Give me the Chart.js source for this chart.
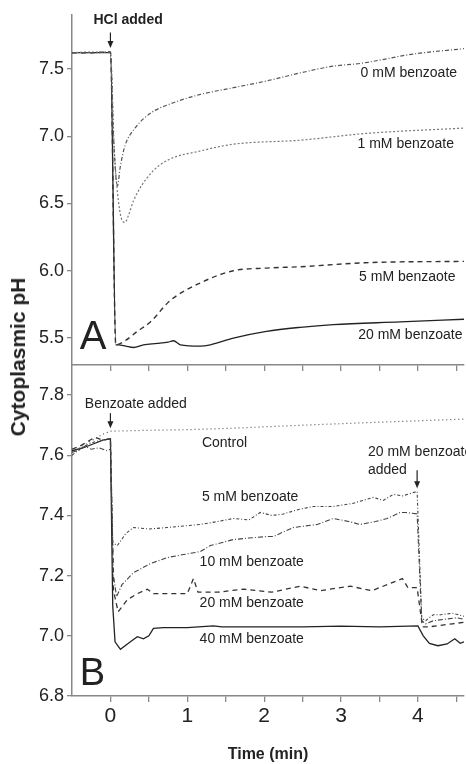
<!DOCTYPE html>
<html>
<head>
<meta charset="utf-8">
<script src="https://cdn.jsdelivr.net/npm/chart.js@4.4.0/dist/chart.umd.min.js"></script>
<style>
  body { margin: 0; background: #fff; width: 466px; height: 764px; position: relative; overflow: hidden; font-family: "Liberation Sans", Arial, sans-serif; }
  #chartA { position: absolute; left: 0; top: 0; }
  #chartB { position: absolute; left: 0; top: 360px; }
  #ylab { position: absolute; left: 18px; top: 357px; transform: translate(-50%, -50%) rotate(-90deg); font-weight: bold; font-size: 21px; white-space: nowrap; color: #222; }
</style>
</head>
<body>
<canvas id="chartA" width="466" height="372"></canvas>
<canvas id="chartB" width="466" height="404"></canvas>
<div id="ylab">Cytoplasmic pH</div>
<script>
// ---- panel A : HCl added (time in min, pH) ----
var tA0  = [-0.5, -0.25, 0, 0.04, 0.09, 0.13, 0.19, 0.32, 0.52, 0.78, 1.17, 1.6, 2.03, 2.47, 2.9, 3.25, 3.94, 4.6];
var pA0  = [7.62, 7.62, 7.625, 7.0, 6.63, 6.78, 6.93, 7.06, 7.17, 7.24, 7.31, 7.36, 7.41, 7.47, 7.52, 7.54, 7.61, 7.65];
var tA1  = [-0.5, -0.25, 0, 0.05, 0.12, 0.19, 0.24, 0.3, 0.52, 0.74, 1.17, 1.6, 2.47, 3.32, 4.6];
var pA1  = [7.62, 7.625, 7.62, 6.9, 6.45, 6.36, 6.42, 6.52, 6.72, 6.82, 6.89, 6.94, 6.97, 7.02, 7.06];
var tA5  = [-0.5, -0.25, 0, 0.07, 0.19, 0.35, 0.52, 0.78, 1.17, 1.6, 2.03, 2.47, 3.32, 4.6];
var pA5  = [7.62, 7.62, 7.625, 5.45, 5.48, 5.55, 5.62, 5.78, 5.91, 6.0, 6.02, 6.03, 6.06, 6.07];
var tA20 = [-0.5, -0.25, 0, 0.07, 0.11, 0.2, 0.3, 0.43, 0.61, 0.75, 0.82, 0.91, 1.17, 1.3, 1.6, 2.03, 2.47, 2.9, 3.77, 4.6];
var pA20 = [7.62, 7.62, 7.62, 5.45, 5.45, 5.44, 5.43, 5.45, 5.46, 5.47, 5.48, 5.45, 5.44, 5.45, 5.5, 5.55, 5.58, 5.6, 5.62, 5.64];

// ---- panel B : benzoate added ----
var tBc  = [-0.5, -0.4, -0.3, -0.2, -0.1, 0, 0.5, 1, 1.6, 2.5, 3.5, 4.6];
var pBc  = [7.61, 7.625, 7.64, 7.655, 7.67, 7.68, 7.683, 7.685, 7.69, 7.70, 7.71, 7.72];
var tB5  = [-0.5, -0.4, -0.3, -0.2, -0.1, 0, 0.03, 0.09, 0.2, 0.3, 0.5, 0.74, 0.95, 1.17, 1.4, 1.6, 1.8, 1.95, 2.1, 2.25, 2.45, 2.64, 2.9, 3.15, 3.42, 3.55, 3.68, 3.8, 3.99, 4.05, 4.1, 4.2, 4.3, 4.45, 4.6];
var pB5  = [7.60, 7.62, 7.635, 7.645, 7.65, 7.655, 7.31, 7.30, 7.34, 7.36, 7.355, 7.36, 7.365, 7.37, 7.38, 7.39, 7.385, 7.41, 7.40, 7.405, 7.42, 7.43, 7.43, 7.44, 7.46, 7.45, 7.47, 7.465, 7.48, 7.06, 7.05, 7.07, 7.07, 7.075, 7.065];
var tB10 = [-0.5, -0.42, -0.33, -0.25, -0.15, -0.05, 0, 0.04, 0.08, 0.15, 0.3, 0.52, 0.74, 0.95, 1.17, 1.3, 1.6, 1.8, 2.04, 2.12, 2.38, 2.69, 2.9, 3.1, 3.25, 3.45, 3.6, 3.77, 3.84, 3.99, 4.05, 4.1, 4.2, 4.35, 4.5, 4.6];
var pB10 = [7.61, 7.615, 7.63, 7.62, 7.625, 7.615, 7.62, 7.2, 7.13, 7.17, 7.21, 7.24, 7.26, 7.27, 7.28, 7.30, 7.32, 7.325, 7.33, 7.33, 7.36, 7.37, 7.39, 7.38, 7.37, 7.38, 7.39, 7.41, 7.41, 7.405, 7.05, 7.04, 7.05, 7.055, 7.06, 7.055];
var tB20 = [-0.5, -0.4, -0.3, -0.2, -0.1, 0, 0.04, 0.1, 0.22, 0.35, 0.48, 0.56, 0.7, 1.0, 1.08, 1.14, 1.4, 1.73, 2.1, 2.47, 2.73, 3.12, 3.4, 3.8, 3.87, 3.99, 4.06, 4.15, 4.3, 4.45, 4.6];
var pB20 = [7.62, 7.63, 7.645, 7.66, 7.65, 7.655, 7.15, 7.08, 7.12, 7.14, 7.155, 7.14, 7.14, 7.14, 7.19, 7.145, 7.145, 7.155, 7.145, 7.165, 7.15, 7.165, 7.15, 7.19, 7.16, 7.16, 7.03, 7.03, 7.035, 7.04, 7.045];
var tB40 = [-0.5, -0.35, -0.2, -0.1, 0, 0.03, 0.06, 0.13, 0.26, 0.35, 0.43, 0.5, 0.56, 0.69, 1.0, 1.34, 1.45, 2.0, 2.5, 3.0, 3.5, 4.0, 4.07, 4.15, 4.26, 4.38, 4.48, 4.55, 4.6];
var pB40 = [7.615, 7.625, 7.64, 7.65, 7.655, 7.1, 6.98, 6.955, 6.98, 6.997, 6.99, 7.0, 7.025, 7.027, 7.027, 7.033, 7.03, 7.03, 7.03, 7.032, 7.03, 7.033, 7.0, 6.975, 6.967, 6.973, 6.99, 6.975, 6.98];

// ticks
var xTicks  = [0, 0.5, 1, 1.5, 2, 2.5, 3, 3.5, 4, 4.5];
var yTicksA = [5.5, 6.0, 6.5, 7.0, 7.5];
var yTicksB = [6.8, 7.0, 7.2, 7.4, 7.6, 7.8];

// texts and arrows, placed in data units (time, pH)
var notesA = [
    { x: 0.23, y: 7.86, text: 'HCl added', align: 'center', font: 'bold 14px "Liberation Sans", Arial' },
    { x: 4.51, y: 7.47, text: '0 mM benzoate', align: 'right' },
    { x: 4.47, y: 6.94, text: '1 mM benzoate', align: 'right' },
    { x: 4.49, y: 5.95, text: '5 mM benzaote', align: 'right' },
    { x: 4.58, y: 5.52, text: '20 mM benzoate', align: 'right' },
    { x: -0.4, y: 5.5, text: 'A', align: 'left', font: '40px "Liberation Sans", Arial' }
];
var notesB = [
    { x: 0.33, y: 7.77, text: 'Benzoate added', align: 'center' },
    { x: 1.19, y: 7.64, text: 'Control', align: 'left' },
    { x: 1.19, y: 7.46, text: '5 mM benzoate', align: 'left' },
    { x: 1.16, y: 7.245, text: '10 mM benzoate', align: 'left' },
    { x: 1.16, y: 7.11, text: '20 mM benzoate', align: 'left' },
    { x: 1.16, y: 6.99, text: '40 mM benzoate', align: 'left' },
    { x: 3.35, y: 7.61, text: '20 mM benzoate', align: 'left' },
    { x: 3.35, y: 7.55, text: 'added', align: 'left' },
    { x: -0.4, y: 6.87, text: 'B', align: 'left', font: '38px "Liberation Sans", Arial' }
];
var arrowsA = [{ x: 0, from: 7.77, to: 7.655 }];
var arrowsB = [{ x: 0, from: 7.74, to: 7.69 }, { x: 3.99, from: 7.55, to: 7.49 }];

function pts(t, p) {
    var out = [];
    for (var i = 0; i < t.length; i++) out.push({ x: t[i], y: p[i] });
    return out;
}

// plugin qui dessine les textes et les flèches
function notesPlugin(notes, arrows) {
    return {
        id: 'notes',
        afterDatasetsDraw: function (chart) {
            var ctx = chart.ctx, sx = chart.scales.x, sy = chart.scales.y;
            ctx.save();
            ctx.fillStyle = '#222';
            ctx.strokeStyle = '#222';
            ctx.textBaseline = 'middle';
            notes.forEach(function (n) {
                ctx.font = n.font || '14px "Liberation Sans", Arial';
                ctx.textAlign = n.align;
                ctx.fillText(n.text, sx.getPixelForValue(n.x), sy.getPixelForValue(n.y));
            });
            arrows.forEach(function (a) {
                var px = sx.getPixelForValue(a.x), y0 = sy.getPixelForValue(a.from), y1 = sy.getPixelForValue(a.to);
                ctx.lineWidth = 1.2;
                ctx.beginPath();
                ctx.moveTo(px, y0);
                ctx.lineTo(px, y1 - 5);
                ctx.stroke();
                ctx.beginPath();
                ctx.moveTo(px - 3, y1 - 7);
                ctx.lineTo(px + 3, y1 - 7);
                ctx.lineTo(px, y1);
                ctx.closePath();
                ctx.fill();
            });
            ctx.restore();
        }
    };
}

function xScale(showLabels, fitHeight) {
    return {
        type: 'linear', min: -0.5, max: 4.6,
        afterBuildTicks: function (s) { s.ticks = xTicks.map(function (v) { return { value: v }; }); },
        afterFit: function (s) { s.height = fitHeight; },
        ticks: {
            display: showLabels, padding: 2, color: '#222', maxRotation: 0, autoSkip: false,
            font: { family: '"Liberation Sans", Arial', size: 21 },
            callback: function (v) { return Number.isInteger(v) ? String(v) : ''; }
        },
        grid: { drawOnChartArea: false, tickLength: 6, color: '#888', lineWidth: 1.3 },
        border: { color: '#888', width: 1.5 },
        title: {
            display: showLabels, text: 'Time (min)', color: '#222', padding: { top: 0, bottom: 0 },
            font: { family: '"Liberation Sans", Arial', size: 16, weight: 'bold' }
        }
    };
}

function yScale(min, max, ticks) {
    return {
        min: min, max: max,
        afterBuildTicks: function (s) { s.ticks = ticks.map(function (v) { return { value: v }; }); },
        // largeur fixe, pas de marge pour les libellés en bout d'axe
        afterFit: function (s) { s.width = 72; s.paddingTop = 0; s.paddingBottom = 0; },
        ticks: {
            padding: 3, color: '#222',
            font: { family: '"Liberation Sans", Arial', size: 18 },
            callback: function (v) { return v.toFixed(1); }
        },
        grid: { drawOnChartArea: false, tickLength: 5, color: '#888', lineWidth: 1.3 },
        border: { color: '#888', width: 1.5 }
    };
}

function line(label, t, p, color, dash, width, mono) {
    return {
        label: label, data: pts(t, p), borderColor: color, borderDash: dash,
        borderWidth: width, pointRadius: 0, fill: false,
        cubicInterpolationMode: mono ? 'monotone' : 'default', tension: 0
    };
}

var commonPlugins = { legend: { display: false }, tooltip: { enabled: false } };

// Panel A
var chartA = new Chart(document.getElementById('chartA').getContext('2d'), {
    type: 'line',
    data: {
        datasets: [
            line('0 mM benzoate', tA0, pA0, '#555', [4, 2, 1, 2], 1.2, true),
            line('1 mM benzoate', tA1, pA1, '#777', [2, 2], 1.2, true),
            line('5 mM benzaote', tA5, pA5, '#333', [5, 4], 1.4, true),
            line('20 mM benzoate', tA20, pA20, '#222', [], 1.3, true)
        ]
    },
    options: {
        responsive: false, animation: false,
        layout: { padding: { top: 15, right: 2, left: 0, bottom: 0 } },
        plugins: commonPlugins,
        scales: { x: xScale(false, 7), y: yScale(5.3, 7.9, yTicksA) }
    },
    plugins: [notesPlugin(notesA, arrowsA)]
});

// Panel B
var chartB = new Chart(document.getElementById('chartB').getContext('2d'), {
    type: 'line',
    data: {
        datasets: [
            line('Control', tBc, pBc, '#555', [1, 3], 1.2, false),
            line('5 mM benzoate', tB5, pB5, '#444', [3, 2, 1, 2], 1.1, false),
            line('10 mM benzoate', tB10, pB10, '#444', [5, 2, 1, 2], 1.1, false),
            line('20 mM benzoate', tB20, pB20, '#333', [5, 4], 1.3, false),
            line('40 mM benzoate', tB40, pB40, '#222', [], 1.3, false)
        ]
    },
    options: {
        responsive: false, animation: false,
        layout: { padding: { top: 5, right: 2, left: 0, bottom: 0 } },
        plugins: commonPlugins,
        scales: { x: xScale(true, 68), y: yScale(6.8, 7.9, yTicksB) }
    },
    plugins: [notesPlugin(notesB, arrowsB)]
});
</script>
</body>
</html>
